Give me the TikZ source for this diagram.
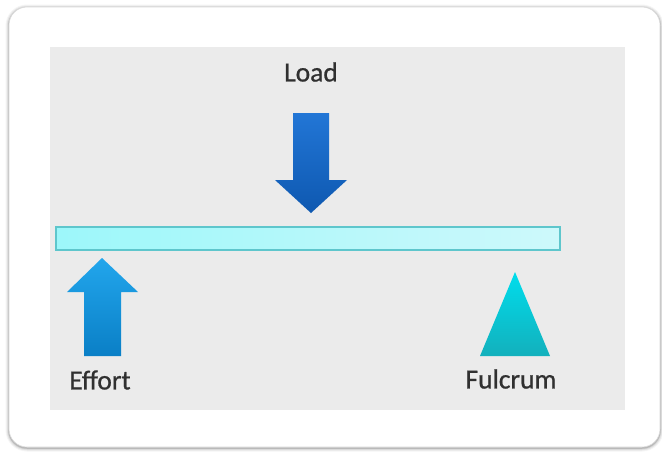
\documentclass[tikz,border=0pt]{standalone}
\usepackage{fontspec}
\setmainfont{Carlito}
\newfontfamily\lblfont{Carlito}[FakeBold=0.8]
\begin{document}
\begin{tikzpicture}[x=1pt,y=-1pt]
\definecolor{panelgray}{HTML}{EBEBEB}
\definecolor{txt}{HTML}{303030}
\definecolor{beamfill}{HTML}{B8F6F9}
\definecolor{beamedge}{HTML}{5EC6CC}
\definecolor{loadtop}{HTML}{2276D6}
\definecolor{loadbot}{HTML}{0E58B0}
\definecolor{efftop}{HTML}{22A6EC}
\definecolor{effbot}{HTML}{0A7FC6}
\definecolor{fultop}{HTML}{00DDEC}
\definecolor{fulbot}{HTML}{13B0BC}
\tikzset{
  lbl/.style={font=\lblfont\fontsize{27.5}{30}\selectfont, text=txt, inner sep=0pt, anchor=center},
}
\useasboundingbox (0,0) rectangle (662,451);
\fill[white] (0,0) rectangle (662,451);
% card shadow
\foreach \w/\o in {7/0.04,5/0.06,3/0.08,1.5/0.12}{
  \draw[black, opacity=\o, line width=\w pt, rounded corners=18pt] (9,8) rectangle (660,448);
}
\draw[fill=white, draw=black!15, line width=0.6pt, rounded corners=18pt] (9,7) rectangle (660,447);
% panel
\fill[panelgray] (50,47) rectangle (625,410);
% beam
\draw[beamedge, line width=1.6pt, left color=beamfill!85!cyan, right color=beamfill!70!white] (56,227) rectangle (560,250);
% load arrow
\shade[top color=loadtop, bottom color=loadbot]
  (293,113) -- (329,113) -- (329,180) -- (347,180) -- (311,213) -- (275,180) -- (293,180) -- cycle;
% effort arrow
\shade[top color=efftop, bottom color=effbot]
  (102,258) -- (138,292) -- (121,292) -- (121,356) -- (84,356) -- (84,292) -- (67,292) -- cycle;
% fulcrum
\shade[top color=fultop, bottom color=fulbot]
  (515,272) -- (550,356) -- (480,356) -- cycle;
% labels
\node[lbl] (load) at (311,72) {Load};
\node[lbl] (effort) at (100,380) {Effort};
\node[lbl] (fulcrum) at (511,379) {Fulcrum};
\end{tikzpicture}
\end{document}
